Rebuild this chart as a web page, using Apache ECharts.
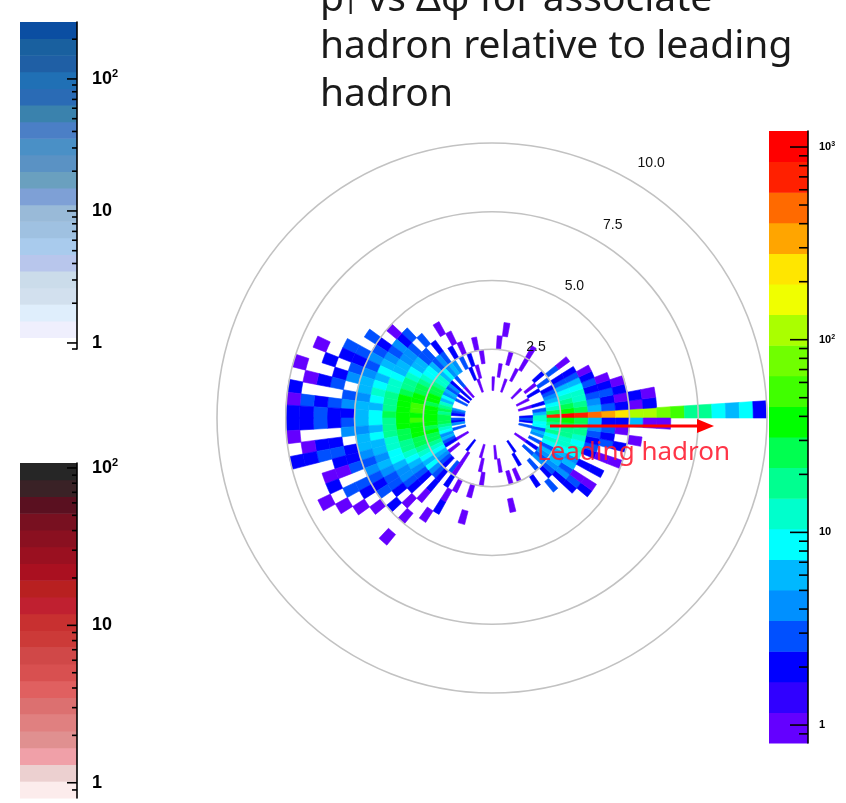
<!DOCTYPE html>
<html>
<head>
<meta charset="utf-8">
<script src="https://cdn.jsdelivr.net/npm/echarts@6.0.0/dist/echarts.min.js"></script>
<style>
html,body{margin:0;padding:0;background:#ffffff;}
#chart{width:846px;height:803px;}
</style>
</head>
<body>
<div id="chart"></div>
<script>
// ---------------- data ----------------
const TITLE_TEXT = 'p{sub|T} vs Δφ for associate\nhadron relative to leading\nhadron';
const ANNOTATION_TEXT = 'Leading hadron';
const R_MAX = 10;
const R_TICK = 2.5;
const R_BIN = 0.5;      // pT bin width
const PHI_BIN = 3.6;    // delta-phi bin width (degrees)
// level code -> counts in the cell
const LEVEL_CODES = 'abcdefghijklmnopqrst';
const LEVEL_COUNTS = [1, 1.4, 2, 3, 4, 6, 9, 12, 18, 26, 38, 54, 78, 112, 160, 230, 340, 480, 700, 1000];
// one string per pT ring (0-0.5, 0.5-1, ...), 100 delta-phi bins each, '.' = empty
const RINGS = [
'.......... .......... .......... .......... .......... .......... .......... .......... .......... ..........',
'.......... .......... .......... .......... .......... .......... .......... .......... .......... ..........',
'c...a..a.. ..a......a ....a..... a.....a.c. c.d...edc. dce.d...a. ....c..... a.....a... ....c..... a.....d.cd',
'hfd.c...c. a......a.. ..a......a .c....d.ce dfegfhijij jjihgefdc. a....a.... .a.....a.. ...c....d. c.d.efdggh',
'sjhgfedc.d .c....a... a......a.. c.d.efegfh hijjkkjkkk kkjkjjihgf edc.da.... ..a......a .a....d.ed efdghgihij',
'tkjihgfdc. d.....a... ...a....a. .a.c.dedfg ghijjkkllk lkkkjjihgf gedc.c.a.. a......... ....c..cde fefghhiijk',
'sjihhgfdc. a......... ..a....... ..a..c.ddf fghiijkkkk kkjjiihgfe dc.c..a... ........a. ......d.ce dfeghghiij',
'rfedcdca.. .......... .......... ...a..d.de effghhiiij iiihhggfee dc.a..c... a......... ........cd a.c.cdcdef',
'qdcdca.... .......... .......... .......dce defgfghgfg gfgffefedd c.a..a.... .......... .........c a.c.a.dcdc',
'pcaca..... .......... .......... ........a. cdedeffeff feffededcd .c.a...... .......... .......... ....a.c.ac',
'nac....... .......... .......... .......... d.dcde.dec de.ccd.dc. a......... .......... .......... .......a.f',
'nca....... .......... .......... .......... ..dc.cd.dc c.cdca.d.a ...a...... .......... .......... .........a',
'm......... .......... .......... .......... ....c.c.cd d.cd.ac.a. .......... .......... .......... .........a',
'l......... .......... .......... .......... ...a..a.dc c.ac...a.. .......... .......... .......... ..........',
'i......... .......... .......... .......... .....a.cac ca.c...... .......... .......... .......... ..........',
'i......... .......... .......... .......... .......... .......... .......... .......... .......... ..........',
'g......... .......... .......... .......... .......... .......... .......... .......... .......... ..........',
'f......... .......... .......... .......... .......... .......... .......... .......... .......... ..........',
'g......... .......... .......... .......... .......... .......... .......... .......... .......... ..........',
'c......... .......... .......... .......... .......... .......... .......... .......... .......... ..........'
];

// rainbow palette (bottom -> top) and its z range
const Z_RANGE = [0.807, 1211];
const RAINBOW = ['#6400ff','#3000ff','#0000ff','#0050ff','#0090ff','#00b8ff','#00ffff','#00ffcc','#00ff90','#00ff50',
                 '#00ff00','#40ff00','#70ff00','#aaff00','#f0ff00','#ffe600','#ffa500','#ff6a00','#ff2000','#ff0000'];
const RAINBOW_TICKS = [0.9,1,2,3,4,5,6,7,8,9,10,20,30,40,50,60,70,80,90,100,200,300,400,500,600,700,800,900,1000];

// blue palette (bottom -> top)
const BLUE_AXIS_RANGE = [0.9, 270];
const BLUE_BAND_RANGE = [1.1, 270];
const BLUE = ['#efeffd','#dfeefc','#d2e0ee','#cbdcea','#b8c6ec','#a9cbed','#9fc1e1','#99bad8','#7ea0d6','#6aa0bf',
              '#5a92c4','#4a90c6','#4b7fc6','#3a82ad','#2a6bb5','#2070b5','#1f5fa5','#19609f','#0b4ea2'];
const BLUE_TICKS = [0.9,1,2,3,4,5,6,7,8,9,10,20,30,40,50,60,70,80,90,100,200];

// red palette (bottom -> top)
const RED_RANGE = [0.8, 107.5];
const RED = ['#fcecec','#ecd0d0','#f0a0a8','#e09090','#e08080','#dc7070','#e06060','#d85050','#d04848','#cc3a38',
             '#c83030','#c02030','#b82020','#aa1020','#9a1020','#8a1020','#781020','#5a1020','#3a2226','#262626'];
const RED_TICKS = [0.9,1,2,3,4,5,6,7,8,9,10,20,30,40,50,60,70,80,90,100];

// ---------------- build ----------------
const CELLS = [];
RINGS.forEach(function (row, i) {
  const s = row.replace(/\s+/g, '');
  for (let j = 0; j < s.length && j < 100; j++) {
    const k = LEVEL_CODES.indexOf(s[j]);
    if (k < 0) continue;
    CELLS.push([i * R_BIN, (i + 1) * R_BIN, j * PHI_BIN, (j + 1) * PHI_BIN, LEVEL_COUNTS[k]]);
  }
});

function paletteColor(v, range, colors) {
  const l0 = Math.log10(range[0]), l1 = Math.log10(range[1]);
  let k = Math.floor((Math.log10(v) - l0) / (l1 - l0) * colors.length);
  k = Math.max(0, Math.min(colors.length - 1, k));
  return colors[k];
}

function powLabel(v) {
  const l = Math.log10(v);
  const n = Math.round(l);
  if (Math.abs(l - n) > 1e-6) return '';
  if (n === 0) return '1';
  if (n === 1) return '10';
  return '10{sup|' + n + '}';
}

function bandSeries(idx, range, colors) {
  const l0 = Math.log10(range[0]);
  const step = (Math.log10(range[1]) - l0) / colors.length;
  return {
    type: 'custom', coordinateSystem: 'cartesian2d', xAxisIndex: idx, yAxisIndex: idx, silent: true, z: 2,
    data: colors.map(function (c, k) { return [0.5, Math.pow(10, l0 + (k + 0.5) * step), k]; }),
    renderItem: function (params, api) {
      const k = api.value(2);
      const lo = Math.pow(10, l0 + k * step), hi = Math.pow(10, l0 + (k + 1) * step);
      const p0 = api.coord([0, lo]), p1 = api.coord([1, hi]);
      return { type: 'rect', shape: { x: p0[0], y: p1[1], width: p1[0] - p0[0], height: p0[1] - p1[1] + 0.5 },
               style: { fill: colors[k] } };
    }
  };
}

function tickSeries(idx, ticks, majorLen, minorLen) {
  return {
    type: 'custom', coordinateSystem: 'cartesian2d', xAxisIndex: idx, yAxisIndex: idx, silent: true, z: 4,
    data: ticks.map(function (v) { return [1, v]; }),
    renderItem: function (params, api) {
      const v = api.value(1);
      const p = api.coord([1, v]);
      const l = Math.log10(v);
      const len = Math.abs(l - Math.round(l)) < 1e-6 ? majorLen : minorLen;
      return { type: 'line', shape: { x1: p[0] - len, y1: p[1], x2: p[0], y2: p[1] },
               style: { stroke: '#000', lineWidth: 1.6 } };
    }
  };
}

function logAxis(idx, range, fontSize, supSize, margin) {
  return {
    gridIndex: idx, type: 'log', logBase: 10, min: range[0], max: range[1], position: 'right', z: 6,
    axisLine: { show: true, onZero: false, lineStyle: { color: '#000', width: 1.6 } },
    axisTick: { show: false }, splitLine: { show: false }, minorTick: { show: false },
    axisLabel: {
      formatter: powLabel, margin: margin, color: '#000', fontSize: fontSize, fontWeight: 'bold',
      fontFamily: 'Liberation Sans',
      rich: { sup: { fontSize: supSize, fontWeight: 'bold', color: '#000', fontFamily: 'Liberation Sans',
                     padding: [0, 0, Math.round(fontSize * 0.55), 0] } }
    }
  };
}

const chart = echarts.init(document.getElementById('chart'), null, { renderer: 'canvas' });
chart.setOption({
  backgroundColor: '#ffffff',
  animation: false,
  title: {
    text: TITLE_TEXT, left: 320, top: -24, padding: 0,
    textStyle: {
      fontFamily: 'Noto Sans', fontSize: 39, fontWeight: 'normal', color: '#1a1a1a', lineHeight: 47.5,
      rich: { sub: { fontFamily: 'Noto Sans', fontSize: 24, color: '#1a1a1a', lineHeight: 47.5, padding: [14, 0, 0, 0] } }
    }
  },
  polar: [
    { center: [492, 418], radius: 275 },
    { center: [492, 418], radius: [10.5, 300.4] }
  ],
  angleAxis: [
    { polarIndex: 0, type: 'value', min: 0, max: 360, startAngle: 0, clockwise: false,
      axisLine: { show: false }, axisTick: { show: false }, axisLabel: { show: false }, splitLine: { show: false } },
    { polarIndex: 1, type: 'value', min: 0, max: 360, startAngle: 58, clockwise: false, show: false }
  ],
  radiusAxis: [
    { polarIndex: 0, type: 'value', min: 0, max: R_MAX, interval: R_TICK, z: 10,
      axisLine: { show: false }, axisTick: { show: false }, axisLabel: { show: false },
      splitLine: { show: true, lineStyle: { color: '#c2c2c2', width: 1.6 } } },
    { polarIndex: 1, type: 'value', min: 0, max: R_MAX, interval: R_TICK, z: 10,
      axisLine: { show: false }, axisTick: { show: false }, splitLine: { show: false },
      axisLabel: { show: true, margin: 0, align: 'center', verticalAlign: 'middle',
        fontFamily: 'Liberation Sans', fontSize: 14, color: '#111',
        formatter: function (v) { return v === 0 ? '' : v.toFixed(1); } } }
  ],
  grid: [
    { left: 20, top: 22, width: 57, height: 327 },
    { left: 20, top: 463, width: 57, height: 335 },
    { left: 769, top: 131, width: 39, height: 612 }
  ],
  xAxis: [0, 1, 2].map(function (i) { return { gridIndex: i, type: 'value', min: 0, max: 1, show: false }; }),
  yAxis: [
    logAxis(0, BLUE_AXIS_RANGE, 18, 11, 15),
    logAxis(1, RED_RANGE, 18, 11, 15),
    logAxis(2, Z_RANGE, 11, 7, 11)
  ],
  series: [
    {
      type: 'custom', coordinateSystem: 'polar', polarIndex: 0, silent: true, z: 2,
      dimensions: ['rLo', 'rHi', 'phiLo', 'phiHi', 'count'],
      encode: { radius: 0, angle: 2 },
      data: CELLS,
      renderItem: function (params, api) {
        const cs = params.coordSys;
        const rLo = api.value(0), rHi = api.value(1), aLo = api.value(2), aHi = api.value(3), v = api.value(4);
        const pIn = api.coord([rLo, aLo]);
        const pOutLo = api.coord([rHi, aLo]);
        const pOutHi = api.coord([rHi, aHi]);
        const r0 = Math.hypot(pIn[0] - cs.cx, pIn[1] - cs.cy);
        const r1 = Math.hypot(pOutLo[0] - cs.cx, pOutLo[1] - cs.cy);
        let s = Math.atan2(pOutHi[1] - cs.cy, pOutHi[0] - cs.cx);
        let e = Math.atan2(pOutLo[1] - cs.cy, pOutLo[0] - cs.cx);
        if (e < s) e += 2 * Math.PI;
        const col = paletteColor(v, Z_RANGE, RAINBOW);
        return { type: 'sector',
          shape: { cx: cs.cx, cy: cs.cy, r0: r0, r: r1, startAngle: s, endAngle: e, clockwise: true },
          style: { fill: col, stroke: col, lineWidth: 0.6 } };
      }
    },
    bandSeries(0, BLUE_BAND_RANGE, BLUE),
    tickSeries(0, BLUE_TICKS, 10, 5),
    bandSeries(1, RED_RANGE, RED),
    tickSeries(1, RED_TICKS, 10, 5),
    bandSeries(2, Z_RANGE, RAINBOW),
    tickSeries(2, RAINBOW_TICKS, 18, 9)
  ],
  graphic: [
    { type: 'line', z: 50, shape: { x1: 550, y1: 426, x2: 700, y2: 426 }, style: { stroke: '#ff0000', lineWidth: 3 } },
    { type: 'polygon', z: 50, shape: { points: [[697, 419], [714, 426], [697, 433]] }, style: { fill: '#ff0000' } },
    { type: 'text', z: 50, x: 537, y: 453,
      style: { text: ANNOTATION_TEXT, fill: 'rgba(255,25,45,0.88)', fontSize: 26, fontFamily: 'Noto Sans', verticalAlign: 'middle' } }
  ]
});
</script>
</body>
</html>
